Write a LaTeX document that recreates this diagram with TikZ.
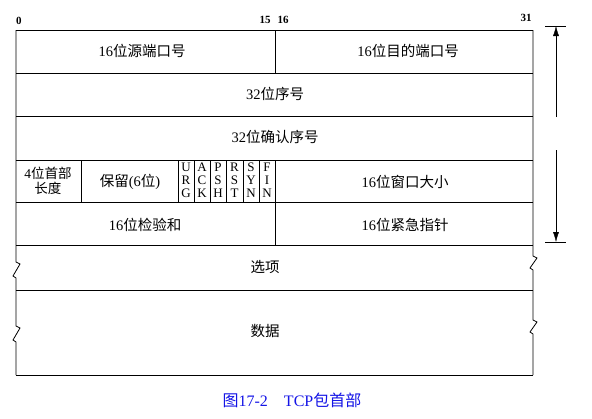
\documentclass[tikz,border=0pt]{standalone}
\usepackage{fontspec}
\setmainfont{Liberation Serif}
\newfontfamily\cjk{Noto Sans CJK SC}
\usetikzlibrary{arrows.meta}
\newcommand{\zh}[1]{{\cjk #1}}
\definecolor{captionblue}{RGB}{20,20,230}

\begin{document}
\begin{tikzpicture}[x=1pt, y=-1pt,
    field/.style={font=\fontsize{14.5}{16}\selectfont, inner sep=1pt},
    bitno/.style={font=\bfseries\fontsize{11}{12}\selectfont, inner sep=0pt},
    flag/.style={font=\fontsize{13}{13}\selectfont, align=center, inner sep=0pt},
    frame/.style={line width=0.8pt}]
    \useasboundingbox (0,0) rectangle (592,418);

    % bit numbers
    \node[bitno] (b0)  at (19,21)  {0};
    \node[bitno] (b15) at (265,20) {15};
    \node[bitno] (b16) at (283,20) {16};
    \node[bitno] (b31) at (526,18) {31};

    % rows
    \foreach \y in {30,73,116,160,202,245,290,375}
        \draw[frame] (16,\y) -- (533,\y);

    % left edge with breaks
    \draw[frame] (16,30) -- (16,262) -- (20,264) -- (13,276) -- (16,278)
        -- (16,326) -- (20,328) -- (13,340) -- (16,342) -- (16,375);
    % right edge with breaks
    \draw[frame] (533,30) -- (533,256) -- (537,258) -- (530,268) -- (533,270)
        -- (533,320) -- (537,322) -- (530,332) -- (533,334) -- (533,375);

    % inner dividers
    \draw[frame] (275,30) -- (275,73);
    \draw[frame] (275,160) -- (275,245);
    \draw[frame] (81,160) -- (81,202);
    \foreach \x in {178,194,210,226,243,259}
        \draw[frame] (\x,160) -- (\x,202);

    % fields
    \node[field] (srcport) at (142,51)  {16\zh{位源端口号}};
    \node[field] (dstport) at (408,51)  {16\zh{位目的端口号}};
    \node[field] (seq)     at (275,94)  {32\zh{位序号}};
    \node[field] (ack)     at (275,137) {32\zh{位确认序号}};
    \node[field, align=center, font=\fontsize{13.5}{15}\selectfont] (hlen) at (48,181)
        {4\zh{位首部}\\\zh{长度}};
    \node[field] (rsvd)    at (130,182) {\zh{保留}(6\zh{位})};
    \node[field] (win)     at (405,182) {16\zh{位窗口大小}};
    \node[field] (csum)    at (145,225) {16\zh{位检验和}};
    \node[field] (urgptr)  at (405,225) {16\zh{位紧急指针}};
    \node[field] (opts)    at (265,267) {\zh{选项}};
    \node[field] (data)    at (265,331) {\zh{数据}};

    % flags
    \node[flag] (urg) at (186,180) {U\\R\\G};
    \node[flag] (ackf) at (202,180) {A\\C\\K};
    \node[flag] (psh) at (218,180) {P\\S\\H};
    \node[flag] (rst) at (234.5,180) {R\\S\\T};
    \node[flag] (syn) at (251,180) {S\\Y\\N};
    \node[flag] (fin) at (267,180) {F\\I\\N};

    % header length arrow
    \coordinate (top) at (556,26);
    \coordinate (bot) at (556,242);
    \coordinate (gapa) at (556,117);
    \coordinate (gapb) at (556,150);
    \draw[frame] (545,26) -- (566,26);
    \draw[frame] (545,242) -- (566,242);
    \draw[-{Latex[length=10pt,width=6pt]}] (gapa) -- (top);
    \draw[-{Latex[length=10pt,width=6pt]}] (gapb) -- (bot);

    % caption
    \node[text=captionblue, font=\fontsize{16}{18}\selectfont] (cap) at (292,400)
        {\zh{图}17-2\quad TCP\zh{包首部}};
\end{tikzpicture}
\end{document}
